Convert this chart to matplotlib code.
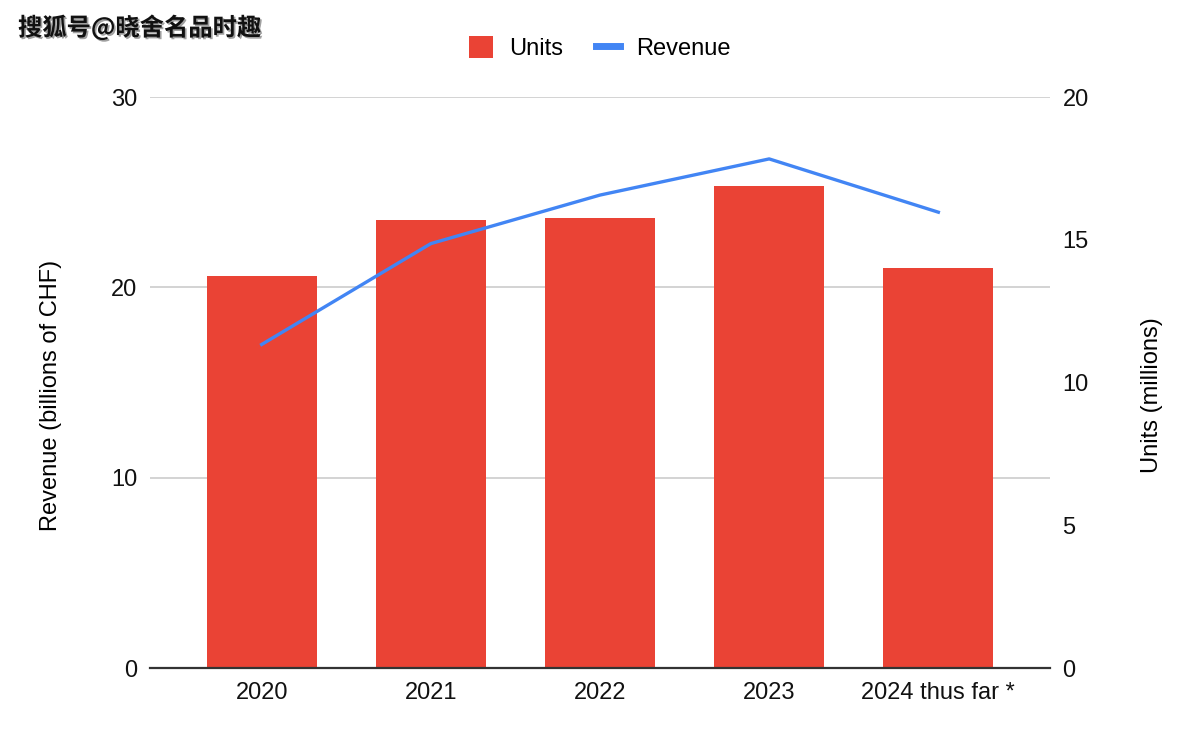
import matplotlib
matplotlib.use("Agg")
import matplotlib.pyplot as plt
from matplotlib.patches import Patch
from matplotlib.lines import Line2D
import matplotlib.patheffects as pe

plt.rcParams['font.family'] = ['Liberation Sans', 'DejaVu Sans']

# data
years = ['2020', '2021', '2022', '2023', '2024 thus far *']
units = [13.73, 15.69, 15.76, 16.88, 14.01]          # millions (right axis)
revenue = [17.0, 22.3, 24.85, 26.75, 23.95]           # billions CHF (left axis)
rev_ticks = [0, 10, 20, 30]
unit_ticks = [0, 5, 10, 15, 20]

bar_color = '#EA4335'
line_color = '#4285F4'

fig = plt.figure(figsize=(12, 7.42), dpi=100)
ax_bar = fig.add_axes([0.125, 0.0997, 0.75, 0.7695])
x = range(len(years))

# gridlines follow the revenue ticks, drawn behind the bars
scale = max(unit_ticks) / max(rev_ticks)
for t in rev_ticks[1:]:
    ax_bar.axhline(t * scale, color='#cccccc', lw=1.2, zorder=0)

ax_bar.bar(x, units, width=0.65, color=bar_color, zorder=2)
ax_bar.set_ylim(0, max(unit_ticks))
ax_bar.set_xlim(-0.66, len(years) - 1 + 0.66)
ax_bar.set_xticks(list(x))
ax_bar.set_xticklabels(years)

ax_line = ax_bar.twinx()
ax_line.plot(x, revenue, color=line_color, lw=2.4, solid_joinstyle='round')
ax_line.set_ylim(0, max(rev_ticks))

# revenue axis on the left, units axis on the right
ax_bar.set_yticks(unit_ticks)
ax_bar.yaxis.tick_right()
ax_bar.yaxis.set_label_position('right')
ax_bar.set_ylabel('Units (millions)', fontsize=17)
ax_bar.yaxis.set_label_coords(1.101, 0.478)
ax_line.set_yticks(rev_ticks)
ax_line.yaxis.tick_left()
ax_line.yaxis.set_label_position('left')
ax_line.set_ylabel('Revenue (billions of CHF)', fontsize=17)
ax_line.yaxis.set_label_coords(-0.098, 0.478)

for ax in (ax_bar, ax_line):
    for s in ax.spines.values():
        s.set_visible(False)
    ax.tick_params(length=0, labelsize=17, colors='#111111')
ax_line.tick_params(axis='y', pad=9)
ax_bar.tick_params(axis='y', pad=9)
ax_bar.tick_params(axis='x', pad=10)
ax_bar.spines['bottom'].set_visible(True)
ax_bar.spines['bottom'].set_color('#333333')
ax_bar.spines['bottom'].set_linewidth(1.6)
ax_bar.spines['bottom'].set_zorder(3)

handles = [Patch(facecolor=bar_color, edgecolor='none'),
           Line2D([0], [0], color=line_color, lw=5)]
fig.legend(handles, ['Units', 'Revenue'], loc='center', bbox_to_anchor=(0.5, 0.935),
           ncol=2, frameon=False, fontsize=17, handlelength=1.0, handleheight=1.0,
           columnspacing=1.4, handletextpad=0.7)

fig.text(0.015, 0.963, '搜狐号@晓舍名品时趣', fontsize=17.5, fontweight='bold',
         family=['Noto Sans CJK SC', 'DejaVu Sans'], color='#111111', va='center',
         path_effects=[pe.withSimplePatchShadow(offset=(1.2, -1.2), shadow_rgbFace='#888888', alpha=0.8)])

fig.savefig('out.png', dpi=100, facecolor='white')
